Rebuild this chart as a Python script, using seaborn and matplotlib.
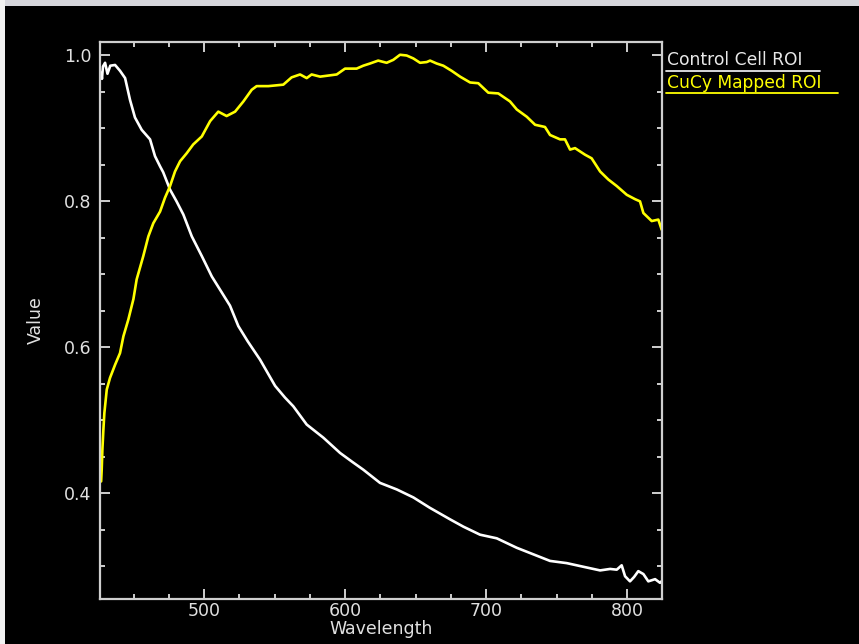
import numpy as np
import pandas as pd
import matplotlib
matplotlib.use("Agg")
import matplotlib.pyplot as plt
from matplotlib.lines import Line2D
from matplotlib.patches import Rectangle
from matplotlib.ticker import MultipleLocator
import seaborn as sns

# ---- data ----
control_wl = [427, 427.6, 428.3, 429.8, 431.5, 433.5, 436.9, 440.4, 444.0, 447.5, 451.0, 455.8,
              461.7, 465.2, 468.8, 471.0, 475.9, 480.5, 485.3, 491.3, 498.4, 505.5, 512.6,
              518.4, 524.3, 531.0, 539.7, 550.4, 557.4, 563.3, 572.8, 584.6, 596.5, 605.0,
              613.0, 624.8, 636.7, 648.5, 660.0, 674.5, 683.9, 695.7, 707.6, 721.8, 733.6,
              745.4, 757.2, 769.0, 780.9, 788.0, 792.7, 796.2, 798.6, 802.1, 805.0, 808.0,
              811.6, 815.1, 819.9, 823.4, 825.0]
control_val = [0.976, 0.968, 0.985, 0.990, 0.975, 0.986, 0.987, 0.979, 0.969, 0.939, 0.915, 0.898,
               0.885, 0.862, 0.848, 0.840, 0.816, 0.800, 0.782, 0.752, 0.725, 0.697, 0.675,
               0.657, 0.629, 0.608, 0.583, 0.547, 0.531, 0.519, 0.494, 0.476, 0.455, 0.443,
               0.432, 0.414, 0.405, 0.394, 0.380, 0.364, 0.354, 0.343, 0.338, 0.325, 0.316,
               0.307, 0.304, 0.299, 0.294, 0.296, 0.295, 0.301, 0.286, 0.279, 0.285, 0.293,
               0.289, 0.279, 0.282, 0.277, 0.280]

cucy_wl = [427.0, 427.4, 427.9, 428.6, 429.3, 431.0, 433.3, 436.9, 440.4, 442.8, 446.3, 449.9,
           452.2, 456.9, 460.5, 464.0, 468.8, 472.3, 475.9, 479.4, 483.0, 487.7, 492.3, 498.4,
           504.3, 510.1, 516.0, 522.0, 527.9, 533.8, 537.3, 545.6, 556.2, 562.1, 568.1, 572.8,
           576.3, 582.3, 594.1, 600.0, 608.2, 612.9, 617.7, 623.5, 629.5, 634.2, 639.0, 643.7,
           648.4, 653.2, 657.9, 660.3, 665.0, 669.7, 675.6, 681.6, 688.7, 694.5, 701.6, 708.7,
           717.0, 721.8, 728.9, 734.8, 741.8, 745.4, 752.5, 756.0, 759.6, 763.1, 770.2, 774.9,
           780.9, 786.7, 792.7, 799.8, 805.7, 809.2, 811.6, 817.5, 822.2, 824.6]
cucy_val = [0.416, 0.432, 0.460, 0.487, 0.510, 0.542, 0.558, 0.576, 0.592, 0.615, 0.638, 0.666,
            0.693, 0.725, 0.752, 0.770, 0.786, 0.805, 0.821, 0.841, 0.855, 0.866, 0.878, 0.889,
            0.910, 0.923, 0.917, 0.923, 0.937, 0.953, 0.958, 0.958, 0.960, 0.970, 0.974, 0.969,
            0.974, 0.971, 0.974, 0.982, 0.982, 0.986, 0.989, 0.993, 0.990, 0.994, 1.001, 1.000,
            0.996, 0.990, 0.991, 0.993, 0.989, 0.986, 0.979, 0.971, 0.963, 0.962, 0.949, 0.948,
            0.937, 0.926, 0.916, 0.905, 0.902, 0.891, 0.885, 0.885, 0.871, 0.873, 0.864, 0.859,
            0.841, 0.830, 0.821, 0.809, 0.803, 0.800, 0.784, 0.773, 0.775, 0.761]

series_names = ["Control Cell ROI", "CuCy Mapped ROI"]
series_colors = ["#ffffff", "#ffff00"]
x_ticks = [500, 600, 700, 800]
y_ticks = [0.4, 0.6, 0.8, 1.0]

df = pd.concat([
    pd.DataFrame({"Wavelength": control_wl, "Value": control_val, "series": series_names[0]}),
    pd.DataFrame({"Wavelength": cucy_wl, "Value": cucy_val, "series": series_names[1]}),
], ignore_index=True)

sns.set_theme(style="dark")
plt.rcParams["font.family"] = ["DejaVu Sans"]

W, H = 859, 644
fig = plt.figure(figsize=(W / 100, H / 100), dpi=100, facecolor="black")
ax = fig.add_axes([100 / W, 1 - 599 / H, 562 / W, 557 / H])
ax.set_facecolor("black")

for name, col in zip(series_names, series_colors):
    sub = df[df["series"] == name]
    sns.lineplot(data=sub, x="Wavelength", y="Value", ax=ax, color=col,
                 linewidth=1.9, sort=False, estimator=None, legend=False)

ax.set_xlim(426.2, 824.8)
ax.set_ylim(0.2548, 1.0185)
ax.grid(False)

axis_col = "#cfcfcf"
for s in ax.spines.values():
    s.set_visible(True)
    s.set_color(axis_col)
    s.set_linewidth(1.6)

ax.set_xticks(x_ticks)
ax.set_yticks(y_ticks)
ax.set_xticklabels([str(v) for v in x_ticks])
ax.set_yticklabels([f"{v:.1f}" for v in y_ticks])
ax.xaxis.set_minor_locator(MultipleLocator(25))
ax.yaxis.set_minor_locator(MultipleLocator(0.05))
ax.tick_params(which="both", direction="in", top=True, right=True, bottom=True, left=True,
               color=axis_col, width=1.4, labelcolor="#e0e0e0", labelsize=12.5)
ax.tick_params(which="major", length=7.5, pad=6)
ax.tick_params(which="minor", length=3.8)
ax.tick_params(axis="x", which="major", pad=2.5)

ax.set_xlabel("Wavelength", color="#e0e0e0", fontsize=12.5, labelpad=0)
ax.set_ylabel("Value", color="#e0e0e0", fontsize=12.5, labelpad=14)

# legend as underlined text on the right
legend_items = [(series_names[0], series_colors[0], 60, 71, 820),
                (series_names[1], series_colors[1], 83, 93, 838)]
for text, col, ty, uy, ux2 in legend_items:
    c = col if col != "#ffffff" else "#e8e8e8"
    fig.text(667 / W, 1 - ty / H, text, color=c, fontsize=12.3, va="center", ha="left")
    fig.add_artist(Line2D([666 / W, ux2 / W], [1 - uy / H, 1 - uy / H],
                          transform=fig.transFigure, color=c, linewidth=1.3))

# window chrome: light strip on top
fig.add_artist(Rectangle((0, 1 - 6 / H), 1, 6 / H, transform=fig.transFigure,
                         facecolor="#d6d6dc", edgecolor="none"))
fig.add_artist(Rectangle((0, 0), 5 / W, 1, transform=fig.transFigure,
                         facecolor="#f2f2f2", edgecolor="none"))

fig.savefig("out.png", dpi=100, facecolor="black")
